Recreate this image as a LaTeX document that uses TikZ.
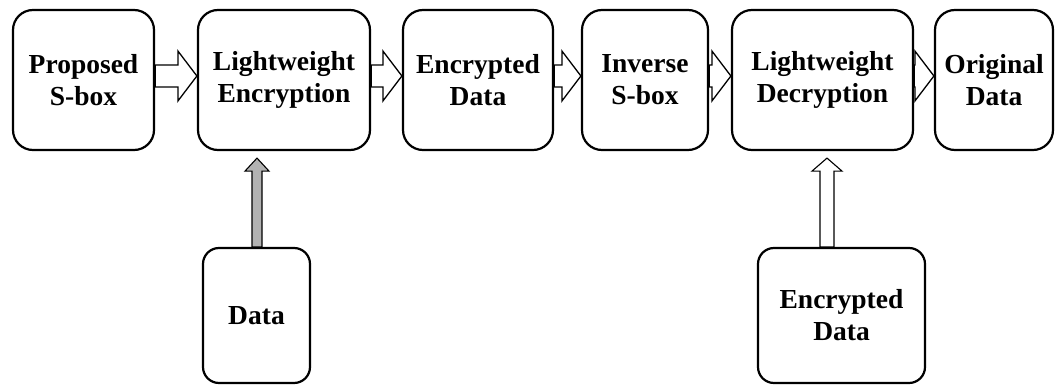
\documentclass[tikz,border=0pt]{standalone}
\usepackage{fontspec}
\setmainfont{Liberation Serif}
\newfontfamily\boxfont{Liberation Serif}[BoldFont={Liberation Serif Bold}]
\usetikzlibrary{calc}
\tikzset{
  box/.style={draw=black, line width=2.2pt, rounded corners=20pt, fill=white,
    align=center, inner sep=0pt, font=\boxfont\fontsize{27.5}{32}\selectfont\bfseries},
  lowbox/.style={box, rounded corners=16pt},
  barrow/.style={draw=black, line width=1.3pt, fill=white, line join=miter},
  varrow/.style={draw=black, line width=1.1pt, line join=miter}
}
\newcommand{\harr}[2]{%
  \draw[barrow] let \p1=([yshift=4pt]#1.east), \p2=([yshift=4pt]#2.west) in
    (\x1,\y1+11pt) -- (\x2-19pt,\y1+11pt) -- (\x2-19pt,\y1+25pt) -- (\x2,\y1)
    -- (\x2-19pt,\y1-25pt) -- (\x2-19pt,\y1-11pt) -- (\x1,\y1-11pt) -- cycle;}
% #1 from node, #2 to node, #3 xshift on to-node, #4 shaft half width, #5 head half width, #6 fill
\newcommand{\varr}[6]{%
  \draw[varrow, fill=#6] let \p1=([xshift=#3]#2.south), \p2=(#1.north) in
    (\x1-#4,\y2) -- (\x1-#4,\y1-20pt) -- (\x1-#5,\y1-20pt) -- (\x1,\y1-7pt)
    -- (\x1+#5,\y1-20pt) -- (\x1+#4,\y1-20pt) -- (\x1+#4,\y2) -- cycle;}
\begin{document}
\begin{tikzpicture}[x=1pt, y=-1pt]
  \useasboundingbox (0,0) rectangle (1057,385);
  \node[box, minimum width=141pt, minimum height=140pt] (b1) at (83.5,80) {Proposed\\S-box};
  \node[box, minimum width=172pt, minimum height=140pt] (b2) at (284,80) {Lightweight\\Encryption};
  \node[box, minimum width=150pt, minimum height=140pt] (b3) at (478,80) {Encrypted\\Data};
  \node[box, minimum width=126pt, minimum height=140pt] (b4) at (645,80) {Inverse\\S-box};
  \node[box, minimum width=181pt, minimum height=140pt] (b5) at (822.5,80) {Lightweight\\Decryption};
  \node[box, minimum width=118pt, minimum height=140pt] (b6) at (994,80) {Original\\Data};
  \node[lowbox, minimum width=107pt, minimum height=135pt] (d1) at (256.5,315.5) {Data};
  \node[lowbox, minimum width=167pt, minimum height=135pt] (d2) at (841.5,315.5) {Encrypted\\Data};
  \harr{b1}{b2}
  \harr{b2}{b3}
  \harr{b3}{b4}
  \harr{b4}{b5}
  \harr{b5}{b6}
  \varr{d1}{b2}{-27pt}{5pt}{12pt}{gray!60}
  \varr{d2}{b5}{4.5pt}{7pt}{15pt}{white}
\end{tikzpicture}
\end{document}
